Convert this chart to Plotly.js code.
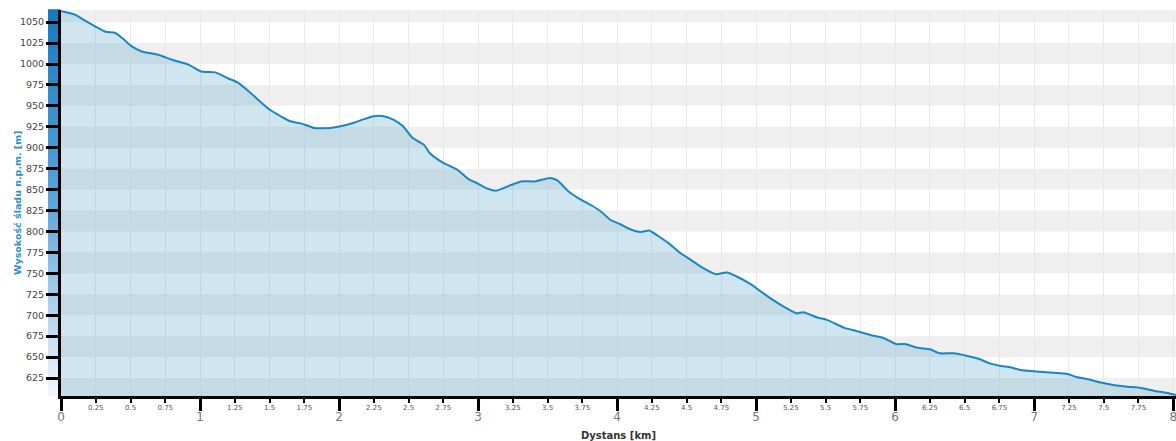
<!DOCTYPE html>
<html>
<head>
<meta charset="utf-8">
<script src="https://cdn.plot.ly/plotly-3.0.1.min.js"></script>
<style>
html,body{margin:0;padding:0;background:#fff;}
#chart{width:1176px;height:441px;}
</style>
</head>
<body>
<div id="chart"></div>
<script>
// Distance along the track [km]
const distanceKm = [0, 0.10, 0.17, 0.245, 0.32, 0.39, 0.44, 0.51, 0.58, 0.70, 0.80, 0.92, 1.01, 1.11, 1.20, 1.27,
  1.36, 1.43, 1.50, 1.58, 1.65, 1.73, 1.82, 1.94, 2.01, 2.10, 2.17, 2.25, 2.32, 2.39, 2.46, 2.53, 2.61, 2.65,
  2.75, 2.85, 2.93, 2.99, 3.07, 3.13, 3.23, 3.31, 3.41, 3.52, 3.57, 3.65, 3.73, 3.82, 3.89, 3.95,
  4.02, 4.09, 4.17, 4.23, 4.30, 4.37, 4.44, 4.53, 4.62, 4.71, 4.79, 4.86, 4.96, 5.05, 5.12,
  5.24, 5.29, 5.34, 5.44, 5.51, 5.63, 5.72, 5.82, 5.92, 6.01, 6.07, 6.16, 6.25, 6.32, 6.42, 6.52, 6.61,
  6.68, 6.76, 6.83, 6.90, 7.04, 7.14, 7.24, 7.31, 7.38, 7.47, 7.57, 7.67, 7.76, 7.86, 7.95, 8.02];
// Elevation above sea level [m]
const elevationM = [1063, 1059, 1052, 1045, 1038.5, 1037, 1031, 1021, 1015, 1011, 1005, 999, 991, 990, 983, 978,
  966, 955.5, 945.6, 937.6, 931.6, 928.8, 923.7, 923.7, 925.6, 929.6, 933.6, 937.6, 937.6, 933.6, 925.6, 911.7, 903.7, 894,
  881.8, 873.8, 862.6, 857.9, 851, 848.7, 855, 859.8, 859.8, 863.9, 861, 847.8, 839, 830.7, 823, 814,
  808.9, 802.9, 799.3, 801.2, 794, 786.1, 776.1, 766.1, 756.2, 749, 751, 746.2, 737.1, 726.3, 718.3,
  706.3, 702.3, 703.6, 697.2, 694.4, 685.2, 681.2, 676.4, 672.5, 665.3, 665.7, 661.2, 659.3, 654.5, 654.5, 651.3, 647.4,
  642.5, 639.4, 637.8, 634.6, 632.5, 631.3, 629.8, 625.8, 623.8, 619.9, 616.6, 614.6, 613.4, 609.8, 607.4, 604.7];

const yTicks = [625, 650, 675, 700, 725, 750, 775, 800, 825, 850, 875, 900, 925, 950, 975, 1000, 1025, 1050];
const xMajorTicks = [0, 1, 2, 3, 4, 5, 6, 7, 8];
const xMinorTicks = [0, 0.25, 0.5, 0.75, 1, 1.25, 1.5, 1.75, 2, 2.25, 2.5, 2.75, 3, 3.25, 3.5, 3.75, 4,
  4.25, 4.5, 4.75, 5, 5.25, 5.5, 5.75, 6, 6.25, 6.5, 6.75, 7, 7.25, 7.5, 7.75, 8];
const xMinorLabels = ['', '0.25', '0.5', '0.75', '', '1.25', '1.5', '1.75', '', '2.25', '2.5', '2.75', '', '3.25', '3.5', '3.75', '',
  '4.25', '4.5', '4.75', '', '5.25', '5.5', '5.75', '', '6.25', '6.5', '6.75', '', '7.25', '7.5', '7.75', ''];
const yTitle = 'Wysokość śladu n.p.m. [m]';
const xTitle = 'Dystans [km]';

const yRange = [603.5, 1064.5];
const xRange = [0, 8.02];

(function () {
  const shapes = [];
  // alternating horizontal bands between ticks
  const step = yTicks[1] - yTicks[0];
  for (let v = yTicks[0] - step; v <= yTicks[yTicks.length - 1]; v += 2 * step) {
    shapes.push({type: 'rect', xref: 'paper', yref: 'y', x0: 0, x1: 1, y0: v, y1: v + step,
      fillcolor: '#efefef', line: {width: 0}, layer: 'below'});
  }
  // blue gradient strip left of the y axis
  const N = 60;
  const cTop = [24, 122, 190], cMid = [90, 165, 218], cBot = [240, 246, 252];
  for (let i = 0; i < N; i++) {
    const t = i / (N - 1);
    let c;
    if (t < 0.5) { const u = t / 0.5; c = cTop.map((a, k) => Math.round(a + (cMid[k] - a) * u)); }
    else { const u = (t - 0.5) / 0.5; c = cMid.map((a, k) => Math.round(a + (cBot[k] - a) * u)); }
    shapes.push({type: 'rect', xref: 'paper', yref: 'paper', x0: -13 / 1115, x1: -1 / 1115,
      y0: 1 - (i + 1) / N, y1: 1 - i / N + 0.002, fillcolor: 'rgb(' + c.join(',') + ')', line: {width: 0}, layer: 'below'});
  }

  const trace = {
    x: distanceKm, y: elevationM, type: 'scatter', mode: 'lines',
    line: {color: '#1a87c3', width: 2, shape: 'spline', smoothing: 0.6},
    fill: 'tozeroy', fillcolor: 'rgba(95,168,205,0.30)',
    hoverinfo: 'x+y', showlegend: false
  };
  const dummy = {x: [xRange[0]], y: [yRange[0]], xaxis: 'x2', type: 'scatter', mode: 'markers',
    marker: {opacity: 0}, showlegend: false, hoverinfo: 'skip'};

  const layout = {
    width: 1176, height: 441,
    margin: {l: 61, r: 0, t: 10, b: 45},
    paper_bgcolor: '#ffffff', plot_bgcolor: '#ffffff',
    font: {family: 'DejaVu Sans, Verdana, sans-serif'},
    shapes: shapes,
    xaxis: {
      range: xRange, tickmode: 'array', tickvals: xMajorTicks, ticktext: xMajorTicks.map(String),
      ticks: 'outside', ticklen: 12, tickwidth: 3, tickcolor: '#000',
      showline: true, linecolor: '#000', linewidth: 3, showgrid: false, zeroline: false,
      tickfont: {size: 12, color: '#777'}, ticklabelstandoff: -4, ticklabeloverflow: 'allow',
      title: {text: '<b>' + xTitle + '</b>', font: {size: 10, color: '#333'}, standoff: 16}
    },
    xaxis2: {
      range: xRange, overlaying: 'x', anchor: 'y', side: 'bottom', tickmode: 'array',
      tickvals: xMinorTicks, ticktext: xMinorLabels,
      ticks: 'outside', ticklen: 6, tickwidth: 2, tickcolor: '#000',
      showgrid: true, gridcolor: '#e8e8e8', gridwidth: 1, zeroline: false, showline: false,
      tickfont: {size: 7, color: '#555'}, ticklabelstandoff: -1
    },
    yaxis: {
      range: yRange, tickmode: 'array', tickvals: yTicks, ticktext: yTicks.map(String),
      ticks: 'outside', ticklen: 12, tickwidth: 2.5, tickcolor: '#000',
      showline: true, linecolor: '#000', linewidth: 3, showgrid: false, zeroline: false,
      tickfont: {size: 9.5, color: '#444'}
    },
    annotations: [{
      text: '<b>' + yTitle + '</b>', textangle: -90, xref: 'paper', yref: 'paper',
      x: -44 / 1115, y: 0.5, xanchor: 'center', yanchor: 'middle', showarrow: false,
      font: {size: 9.5, color: '#2a8fd0'}
    }]
  };

  Plotly.newPlot('chart', [trace, dummy], layout, {displayModeBar: false});
})();
</script>
</body>
</html>
